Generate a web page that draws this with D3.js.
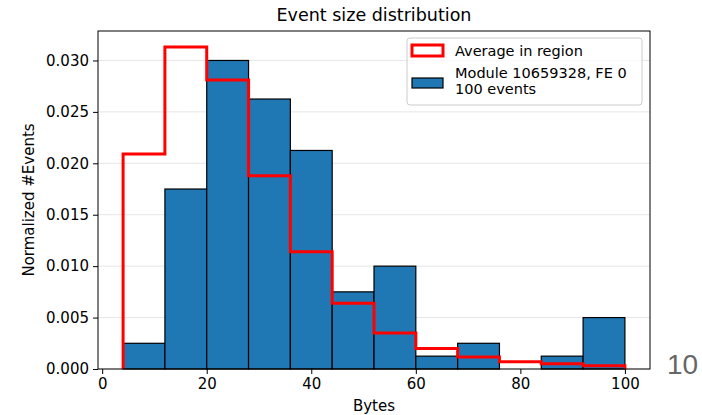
<!DOCTYPE html>
<html>
<head>
<meta charset="UTF-8">
<script src="https://d3js.org/d3.v7.min.js"></script>
<style>
    body { margin: 0; background: #fff; font-family: "DejaVu Sans", sans-serif; }
    .tick text { font-size: 15px; fill: #000; }
</style>
</head>
<body>
<div id="chart"></div>
<script>
// bin edges (Bytes)
const binEdges = [4, 12, 20, 28, 36, 44, 52, 60, 68, 76, 84, 92, 100];
// module histogram (normalized)
const moduleValues = [0.0025, 0.0175, 0.030, 0.02625, 0.02125, 0.0075, 0.010, 0.00125, 0.0025, 0, 0.00125, 0.005];
// average in region (normalized)
const averageValues = [0.0209, 0.0313, 0.0281, 0.0188, 0.0114, 0.0064, 0.0035, 0.0020, 0.00117, 0.00071, 0.00052, 0.00032];
const xTicks = [0, 20, 40, 60, 80, 100];
const yTicks = [0, 0.005, 0.010, 0.015, 0.020, 0.025, 0.030];

const W = 702, H = 415;
const margin = {top: 31, right: 52, bottom: 46, left: 98};
const width = W - margin.left - margin.right,
      height = H - margin.top - margin.bottom;

const svg = d3.select("#chart").append("svg")
    .attr("width", W).attr("height", H);

const g = svg.append("g")
    .attr("transform", `translate(${margin.left},${margin.top})`);

const x = d3.scaleLinear().domain([-0.8, 104.8]).range([0, width]);
const y = d3.scaleLinear().domain([0, 0.0313 * 1.05]).range([height, 0]);

// grid
g.selectAll(".grid").data(yTicks).enter().append("line")
    .attr("x1", 0).attr("x2", width)
    .attr("y1", d => y(d)).attr("y2", d => y(d))
    .attr("stroke", "#e6e6e6").attr("stroke-width", 1);

const bins = moduleValues.map((v, i) => ({x0: binEdges[i], x1: binEdges[i + 1], v}));

g.selectAll(".bar").data(bins.filter(d => d.v > 0)).enter().append("rect")
    .attr("x", d => x(d.x0))
    .attr("y", d => y(d.v))
    .attr("width", d => x(d.x1) - x(d.x0))
    .attr("height", d => y(0) - y(d.v))
    .attr("fill", "#1f77b4")
    .attr("stroke", "#000").attr("stroke-width", 1.2);

// step outline
const pts = [[binEdges[0], 0]];
averageValues.forEach((v, i) => {
    pts.push([binEdges[i], v]);
    pts.push([binEdges[i + 1], v]);
});
pts.push([binEdges[binEdges.length - 1], 0]);

g.append("path")
    .attr("d", d3.line().x(d => x(d[0])).y(d => y(d[1]))(pts))
    .attr("fill", "none")
    .attr("stroke", "#ff0000")
    .attr("stroke-width", 3)
    .attr("stroke-linejoin", "miter");

// axes
const xAxis = g.append("g")
    .attr("transform", `translate(0,${height})`)
    .call(d3.axisBottom(x).tickValues(xTicks).tickSize(5).tickPadding(4).tickFormat(d3.format("d")));
const yAxis = g.append("g")
    .call(d3.axisLeft(y).tickValues(yTicks).tickSize(5).tickPadding(4).tickFormat(d3.format(".3f")));
[xAxis, yAxis].forEach(a => {
    a.select(".domain").remove();
    a.selectAll(".tick line").attr("stroke", "#000");
    a.selectAll(".tick text").style("font-family", "DejaVu Sans");
});

// frame
g.append("rect")
    .attr("width", width).attr("height", height)
    .attr("fill", "none").attr("stroke", "#000").attr("stroke-width", 1);

// title and labels
svg.append("text")
    .attr("x", margin.left + width / 2).attr("y", 21)
    .attr("text-anchor", "middle")
    .style("font-size", "17.5px")
    .text("Event size distribution");

svg.append("text")
    .attr("x", margin.left + width / 2).attr("y", 411)
    .attr("text-anchor", "middle")
    .style("font-size", "15px")
    .text("Bytes");

svg.append("text")
    .attr("transform", `translate(34,${margin.top + height / 2}) rotate(-90)`)
    .attr("text-anchor", "middle")
    .style("font-size", "15px")
    .text("Normalized #Events");

// legend
const lg = svg.append("g").attr("transform", "translate(407,38)");
lg.append("rect")
    .attr("width", 235).attr("height", 67).attr("rx", 3)
    .attr("fill", "#fff").attr("fill-opacity", 0.8)
    .attr("stroke", "#ccc");
lg.append("rect")
    .attr("x", 5).attr("y", 7).attr("width", 31).attr("height", 11)
    .attr("fill", "none").attr("stroke", "#ff0000").attr("stroke-width", 3);
lg.append("rect")
    .attr("x", 5).attr("y", 40).attr("width", 31).attr("height", 10)
    .attr("fill", "#1f77b4").attr("stroke", "#000").attr("stroke-width", 1.2);
const legendText = [["Average in region", 18], ["Module 10659328, FE 0", 40], ["100 events", 56]];
lg.selectAll(".lt").data(legendText).enter().append("text")
    .attr("x", 48).attr("y", d => d[1])
    .style("font-size", "14.5px")
    .text(d => d[0]);

// page number
svg.append("text")
    .attr("x", 667).attr("y", 374)
    .style("font-size", "28px")
    .style("font-family", "Liberation Sans, sans-serif")
    .attr("fill", "#666")
    .text("10");
</script>
</body>
</html>
